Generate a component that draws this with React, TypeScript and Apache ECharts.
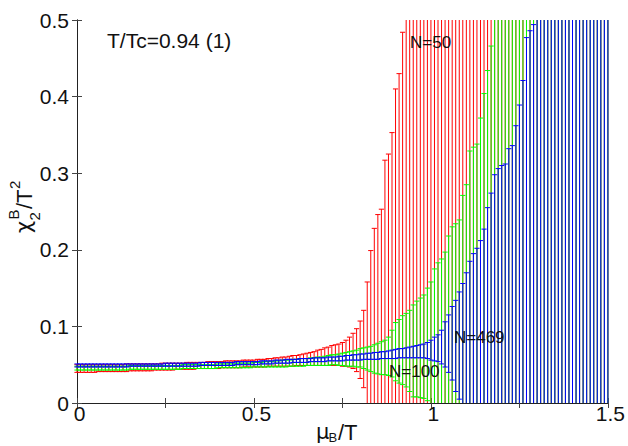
import React, { useEffect, useRef } from "react";
import * as echarts from "echarts";

// mu_B/T sampled every 0.01 from 0 to 1.5 (151 points per series)
const MU_STEP = 0.01;
const X_MIN = 0;
const X_MAX = 1.5;
const Y_MIN = 0;
const Y_MAX = 0.5;

const SERIES_NAMES = ["N=50", "N=100", "N=469"];
const SERIES_COLORS = ["#ff0000", "#00ff00", "#0000ff"];

// N=50 error-bar bounds
const RED_HI = [
  0.050,0.050,0.050,0.050,0.050,0.050,0.050,0.050,0.050,0.050,
  0.050,0.050,0.050,0.050,0.051,0.051,0.051,0.051,0.051,0.051,
  0.051,0.051,0.051,0.051,0.052,0.052,0.052,0.052,0.052,0.052,
  0.052,0.053,0.053,0.053,0.053,0.053,0.053,0.054,0.054,0.054,
  0.054,0.054,0.055,0.055,0.055,0.055,0.055,0.056,0.056,0.056,
  0.056,0.057,0.057,0.057,0.058,0.058,0.059,0.059,0.060,0.060,
  0.061,0.062,0.062,0.063,0.064,0.065,0.066,0.067,0.069,0.070,
  0.072,0.073,0.075,0.076,0.077,0.079,0.082,0.086,0.091,0.097,
  0.107,0.121,0.158,0.199,0.228,0.246,0.253,0.317,0.325,0.353,
  0.410,0.430,0.484,0.541,0.588,0.627,0.694,0.738,0.812,0.879,
  0.951,1.024,1.097,1.183,1.245,1.332,1.418,1.503,1.612,1.704,
  1.823,1.905,2.047,2.161,2.298,2.420,2.571,2.702,2.853,3.004,
  3.112,3.287,3.401,3.566,3.702,3.851,4.013,4.186,4.302,4.477,
  4.601,4.788,4.905,5.102,5.246,5.413,5.577,5.738,5.906,6.084,
  6.203,6.392,6.540,6.717,6.881,7.032,7.214,7.366,7.541,7.703,
  7.880,
];
const RED_LO = [
  0.040,0.040,0.040,0.040,0.040,0.040,0.041,0.041,0.041,0.041,
  0.041,0.041,0.041,0.041,0.041,0.042,0.042,0.042,0.042,0.042,
  0.042,0.042,0.043,0.043,0.043,0.043,0.043,0.043,0.044,0.044,
  0.044,0.044,0.044,0.044,0.045,0.045,0.045,0.045,0.045,0.045,
  0.045,0.046,0.046,0.046,0.046,0.046,0.046,0.047,0.047,0.047,
  0.047,0.047,0.047,0.047,0.048,0.048,0.048,0.048,0.048,0.048,
  0.048,0.048,0.049,0.049,0.049,0.049,0.049,0.049,0.049,0.049,
  0.049,0.049,0.049,0.049,0.049,0.048,0.048,0.047,0.045,0.041,
  0.032,0.020,-0.011,-0.042,-0.068,-0.087,-0.102,-0.148,-0.161,-0.184,
  -0.226,-0.247,-0.291,-0.334,-0.372,-0.405,-0.452,-0.493,-0.541,-0.588,
  -0.633,-0.681,-0.729,-0.782,-0.825,-0.879,-0.933,-0.986,-1.050,-1.104,
  -1.172,-1.221,-1.307,-1.375,-1.455,-1.527,-1.616,-1.694,-1.783,-1.871,
  -1.934,-2.038,-2.104,-2.201,-2.281,-2.369,-2.464,-2.566,-2.633,-2.737,
  -2.810,-2.920,-2.988,-3.104,-3.189,-3.286,-3.382,-3.477,-3.576,-3.681,
  -3.752,-3.862,-3.949,-4.053,-4.150,-4.238,-4.344,-4.433,-4.536,-4.631,
  -4.735,
];

// N=100 error-bar bounds
const GREEN_HI = [
  0.048,0.048,0.048,0.048,0.048,0.048,0.048,0.048,0.048,0.048,
  0.048,0.048,0.048,0.048,0.048,0.049,0.049,0.049,0.049,0.049,
  0.049,0.049,0.049,0.049,0.049,0.049,0.049,0.049,0.049,0.049,
  0.050,0.050,0.050,0.050,0.050,0.050,0.050,0.050,0.050,0.050,
  0.051,0.051,0.051,0.051,0.051,0.052,0.052,0.052,0.052,0.052,
  0.053,0.053,0.053,0.054,0.054,0.054,0.055,0.055,0.056,0.056,
  0.056,0.057,0.057,0.058,0.058,0.058,0.059,0.059,0.060,0.060,
  0.061,0.062,0.063,0.063,0.064,0.065,0.066,0.067,0.068,0.069,
  0.071,0.072,0.073,0.074,0.076,0.078,0.080,0.082,0.086,0.095,
  0.105,0.109,0.114,0.117,0.121,0.128,0.133,0.137,0.141,0.150,
  0.158,0.175,0.183,0.188,0.197,0.218,0.230,0.234,0.239,0.271,
  0.285,0.329,0.334,0.338,0.372,0.404,0.434,0.466,0.524,0.561,
  0.603,0.652,0.688,0.741,0.796,0.842,0.905,0.961,1.018,1.083,
  1.142,1.207,1.276,1.338,1.411,1.482,1.547,1.622,1.704,1.771,
  1.853,1.928,2.011,2.094,2.173,2.262,2.348,2.430,2.521,2.612,
  2.705,
];
const GREEN_LO = [
  0.043,0.043,0.043,0.043,0.043,0.043,0.043,0.043,0.043,0.043,
  0.043,0.043,0.043,0.043,0.043,0.044,0.044,0.044,0.044,0.044,
  0.044,0.044,0.044,0.044,0.044,0.044,0.044,0.044,0.044,0.044,
  0.045,0.045,0.045,0.045,0.045,0.045,0.045,0.045,0.045,0.045,
  0.046,0.046,0.046,0.046,0.046,0.046,0.046,0.046,0.046,0.046,
  0.047,0.047,0.047,0.047,0.047,0.047,0.047,0.047,0.047,0.047,
  0.048,0.048,0.048,0.048,0.048,0.049,0.049,0.049,0.049,0.049,
  0.049,0.049,0.050,0.050,0.049,0.049,0.048,0.048,0.048,0.047,
  0.047,0.045,0.043,0.041,0.039,0.038,0.037,0.037,0.036,0.034,
  0.029,0.026,0.024,0.021,0.015,0.008,0.008,0.007,0.006,0.003,
  -0.011,-0.027,-0.035,-0.041,-0.052,-0.071,-0.083,-0.088,-0.094,-0.122,
  -0.135,-0.176,-0.182,-0.187,-0.219,-0.248,-0.276,-0.305,-0.358,-0.393,
  -0.431,-0.476,-0.509,-0.558,-0.608,-0.651,-0.709,-0.761,-0.814,-0.874,
  -0.928,-0.988,-1.052,-1.110,-1.177,-1.243,-1.303,-1.372,-1.448,-1.510,
  -1.586,-1.656,-1.733,-1.810,-1.883,-1.966,-2.046,-2.122,-2.206,-2.291,
  -2.377,
];

// N=469 error-bar bounds
const BLUE_HI = [
  0.051,0.051,0.051,0.051,0.051,0.051,0.051,0.051,0.051,0.051,
  0.051,0.051,0.051,0.051,0.051,0.051,0.051,0.051,0.051,0.051,
  0.051,0.051,0.051,0.051,0.051,0.052,0.052,0.052,0.052,0.052,
  0.052,0.052,0.052,0.052,0.052,0.053,0.053,0.053,0.053,0.053,
  0.053,0.053,0.053,0.053,0.053,0.054,0.054,0.054,0.054,0.054,
  0.054,0.054,0.055,0.055,0.055,0.055,0.056,0.056,0.056,0.057,
  0.057,0.057,0.057,0.058,0.058,0.058,0.058,0.059,0.059,0.059,
  0.059,0.060,0.060,0.060,0.061,0.061,0.062,0.062,0.063,0.063,
  0.064,0.064,0.065,0.065,0.066,0.066,0.067,0.067,0.068,0.069,
  0.070,0.071,0.071,0.072,0.073,0.074,0.075,0.076,0.077,0.079,
  0.082,0.086,0.089,0.095,0.106,0.115,0.126,0.134,0.145,0.156,
  0.170,0.185,0.195,0.202,0.212,0.227,0.255,0.274,0.298,0.306,
  0.310,0.312,0.332,0.336,0.362,0.389,0.421,0.477,0.486,0.494,
  0.537,0.571,0.602,0.648,0.683,0.721,0.769,0.806,0.858,0.897,
  0.941,0.996,1.038,1.092,1.137,1.190,1.247,1.296,1.355,1.408,
  1.466,
];
const BLUE_LO = [
  0.047,0.047,0.047,0.047,0.047,0.047,0.047,0.047,0.047,0.047,
  0.047,0.047,0.047,0.047,0.047,0.048,0.048,0.048,0.048,0.048,
  0.048,0.048,0.048,0.048,0.048,0.048,0.048,0.048,0.048,0.048,
  0.048,0.048,0.048,0.048,0.048,0.049,0.049,0.049,0.049,0.049,
  0.049,0.049,0.049,0.049,0.049,0.050,0.050,0.050,0.050,0.050,
  0.050,0.050,0.051,0.051,0.051,0.051,0.052,0.052,0.052,0.052,
  0.052,0.053,0.053,0.053,0.053,0.053,0.054,0.054,0.054,0.054,
  0.054,0.055,0.055,0.055,0.055,0.055,0.056,0.056,0.056,0.056,
  0.056,0.057,0.057,0.057,0.057,0.057,0.058,0.058,0.058,0.058,
  0.058,0.059,0.059,0.059,0.059,0.059,0.059,0.059,0.059,0.058,
  0.056,0.055,0.054,0.051,0.047,0.040,0.030,0.015,0.005,-0.008,
  -0.022,-0.036,-0.044,-0.049,-0.057,-0.068,-0.091,-0.106,-0.127,-0.133,
  -0.136,-0.137,-0.154,-0.157,-0.180,-0.204,-0.232,-0.284,-0.291,-0.297,
  -0.336,-0.367,-0.395,-0.437,-0.469,-0.504,-0.549,-0.583,-0.632,-0.668,
  -0.709,-0.760,-0.799,-0.850,-0.892,-0.942,-0.996,-1.042,-1.098,-1.148,
  -1.203,
];

const SERIES_LO = [RED_LO, GREEN_LO, BLUE_LO];
const SERIES_HI = [RED_HI, GREEN_HI, BLUE_HI];

const FONT = "'Liberation Sans', Arial, Helvetica, sans-serif";
const GREEK_FONT = "'DejaVu Sans', 'Liberation Sans', sans-serif";

function txt(text: string, x: number, y: number, size: number, align = "left", family = FONT) {
  return {
    type: "text",
    x,
    y,
    z: 100,
    silent: true,
    style: {
      text,
      fill: "#111",
      font: `${size}px ${family}`,
      fontSize: size,
      fontFamily: family,
      align,
      textAlign: align,
      verticalAlign: "middle",
      textVerticalAlign: "middle",
    },
  };
}

export default function App() {
  const ref = useRef<HTMLDivElement>(null);

  useEffect(() => {
    if (!ref.current) return;
    const chart = echarts.init(ref.current, undefined, { renderer: "svg" });

    const series = SERIES_NAMES.map((name, s) => {
      const lo = SERIES_LO[s];
      const hi = SERIES_HI[s];
      const data = lo.map((l, i) => [Math.round(i * MU_STEP * 100) / 100, l, hi[i]]);
      const color = SERIES_COLORS[s];
      return {
        name,
        type: "custom",
        xAxisIndex: 0,
        yAxisIndex: 0,
        z: 2 + s,
        silent: true,
        data,
        encode: { x: 0, y: [1, 2] },
        renderItem: (params: any, api: any) => {
          const x = api.value(0);
          const l = api.value(1);
          const h = api.value(2);
          const lc = Math.max(l, Y_MIN);
          const hc = Math.min(h, Y_MAX);
          if (hc <= lc) return null;
          const pLo = api.coord([x, lc]);
          const pHi = api.coord([x, hc]);
          const st = { stroke: color, lineWidth: 1 };
          const children: any[] = [
            { type: "line", shape: { x1: pLo[0], y1: pLo[1], x2: pHi[0], y2: pHi[1] }, style: st },
          ];
          const cw = 2.6;
          if (l >= Y_MIN) {
            children.push({ type: "line", shape: { x1: pLo[0] - cw, y1: pLo[1], x2: pLo[0] + cw, y2: pLo[1] }, style: st });
          }
          if (h <= Y_MAX) {
            children.push({ type: "line", shape: { x1: pHi[0] - cw, y1: pHi[1], x2: pHi[0] + cw, y2: pHi[1] }, style: st });
          }
          return { type: "group", children };
        },
      };
    });

    const axisLine = { show: true, lineStyle: { color: "#222", width: 1 } };
    const axisTick = { show: true, inside: true, length: 5, lineStyle: { color: "#444", width: 1 } };
    const labelFont = { fontFamily: FONT, fontSize: 21, color: "#111" };

    chart.setOption({
      animation: false,
      backgroundColor: "#ffffff",
      grid: { left: 77, right: 19, top: 20, bottom: 43, containLabel: false },
      xAxis: [
        {
          type: "value",
          min: X_MIN,
          max: X_MAX,
          interval: 0.25,
          position: "bottom",
          axisLine,
          axisTick,
          splitLine: { show: false },
          axisLabel: {
            ...labelFont,
            margin: 0,
            padding: [0, 0, 0, 5],
            showMinLabel: true,
            showMaxLabel: true,
            formatter: (v: number) => (Math.abs(v * 2 - Math.round(v * 2)) < 1e-9 ? String(v) : ""),
          },
        },
        {
          type: "value",
          min: X_MIN,
          max: X_MAX,
          interval: 0.25,
          position: "top",
          axisLine,
          axisTick,
          splitLine: { show: false },
          axisLabel: { show: false },
        },
      ],
      yAxis: [
        {
          type: "value",
          min: Y_MIN,
          max: Y_MAX,
          interval: 0.1,
          position: "left",
          axisLine,
          axisTick,
          splitLine: { show: false },
          axisLabel: { ...labelFont, margin: 8, padding: [0, 0, 5, 0], showMinLabel: true, showMaxLabel: true },
        },
        {
          type: "value",
          min: Y_MIN,
          max: Y_MAX,
          interval: 0.1,
          position: "right",
          axisLine,
          axisTick,
          splitLine: { show: false },
          axisLabel: { show: false },
        },
      ],
      series,
      graphic: [
        txt("T/Tc=0.94 (1)", 107, 40, 21),
        txt("N=50", 410, 42, 17),
        txt("N=100", 389, 371, 17),
        txt("N=469", 454, 337, 17),
        // x-axis title: mu_B / T
        txt("\u03bc", 316, 432, 21, "left", GREEK_FONT),
        txt("B", 328.5, 437.5, 13),
        txt("/T", 338, 432, 22),
        // y-axis title: chi_2^B / T^2 (rotated)
        {
          type: "group",
          x: 24,
          y: 233,
          rotation: Math.PI / 2,
          children: [
            txt("\u03c7", 0, 0, 21, "left", GREEK_FONT),
            txt("2", 12.5, 10, 15),
            txt("B", 13.5, -11, 15),
            txt("/T", 24, 0, 22),
            txt("2", 44, -10, 15),
          ],
        },
      ],
    });

    return () => chart.dispose();
  }, []);

  return <div ref={ref} style={{ width: 628, height: 446, position: "absolute", left: 0, top: 0 }} />;
}
